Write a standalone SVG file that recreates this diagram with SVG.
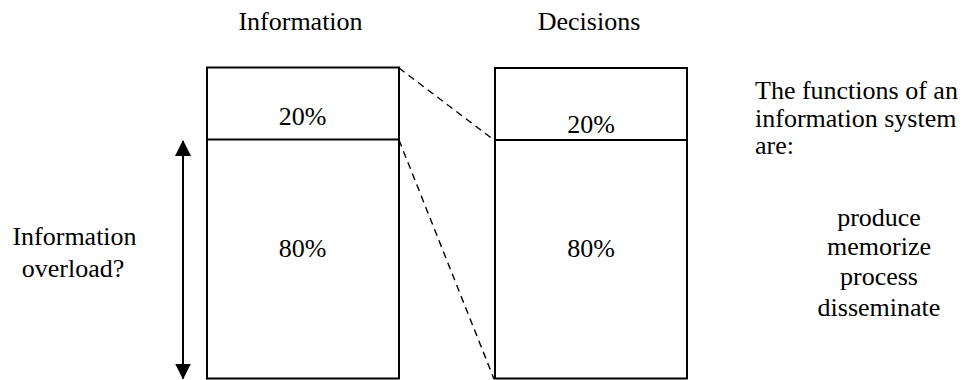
<svg xmlns="http://www.w3.org/2000/svg" width="967" height="380" viewBox="0 0 967 380" font-family="'Liberation Serif', Tinos, 'Times New Roman', Times, serif">
<style>
text { font-family: "Liberation Serif", Tinos, "Times New Roman", Times, serif; font-size: 26px; fill: #000; }
.c { text-anchor: middle; }
.box { fill: none; stroke: #000; stroke-width: 2; }
.div { stroke: #000; stroke-width: 2; }
.dash { stroke: #000; stroke-width: 1.4; stroke-dasharray: 7 5; fill: none; }
.arrow { stroke: #000; stroke-width: 2; fill: none; }
</style>
<defs>
<marker id="ah" markerUnits="userSpaceOnUse" markerWidth="16" markerHeight="16" refX="15" refY="8" orient="auto-start-reverse" viewBox="0 0 16 16">
<polygon points="0,0 16,8 0,16" fill="#000"/>
</marker>
</defs>
<g id="title-information"><text class="c" x="300.5" y="30" font-family="'Liberation Serif', serif">Information</text></g>
<g id="title-decisions"><text class="c" x="589" y="30" font-family="'Liberation Serif', serif">Decisions</text></g>
<g id="info-box">
<rect class="box" x="207" y="67.5" width="192" height="311"/>
<line class="div" x1="207" y1="139.5" x2="399" y2="139.5"/>
<text class="c" x="302.5" y="125" font-family="'Liberation Serif', serif">20%</text>
<text class="c" x="302.5" y="257" font-family="'Liberation Serif', serif">80%</text>
</g>
<g id="decision-box">
<rect class="box" x="495" y="68" width="192" height="310.5"/>
<line class="div" x1="495" y1="140" x2="687" y2="140"/>
<text class="c" x="591" y="133" font-family="'Liberation Serif', serif">20%</text>
<text class="c" x="591" y="257" font-family="'Liberation Serif', serif">80%</text>
</g>
<g id="overload-label" font-family="'Liberation Serif', serif">
<text class="c" x="74.5" y="245">Information</text>
<text class="c" x="73" y="277">overload?</text>
</g>
<g id="functions-text" font-family="'Liberation Serif', serif">
<text x="755" y="99">The functions of an</text>
<text x="755" y="126.5">information system</text>
<text x="755" y="153.5">are:</text>
<text class="c" x="879" y="225.5">produce</text>
<text class="c" x="879" y="255">memorize</text>
<text class="c" x="879" y="285">process</text>
<text class="c" x="879" y="316">disseminate</text>
</g>
<g id="connectors">
<line class="arrow" x1="183" y1="141" x2="183" y2="378.5" marker-start="url(#ah)" marker-end="url(#ah)"/>
<line class="dash" x1="399" y1="68" x2="494" y2="140"/>
<line class="dash" x1="399" y1="140" x2="494" y2="379"/>
</g>
</svg>
